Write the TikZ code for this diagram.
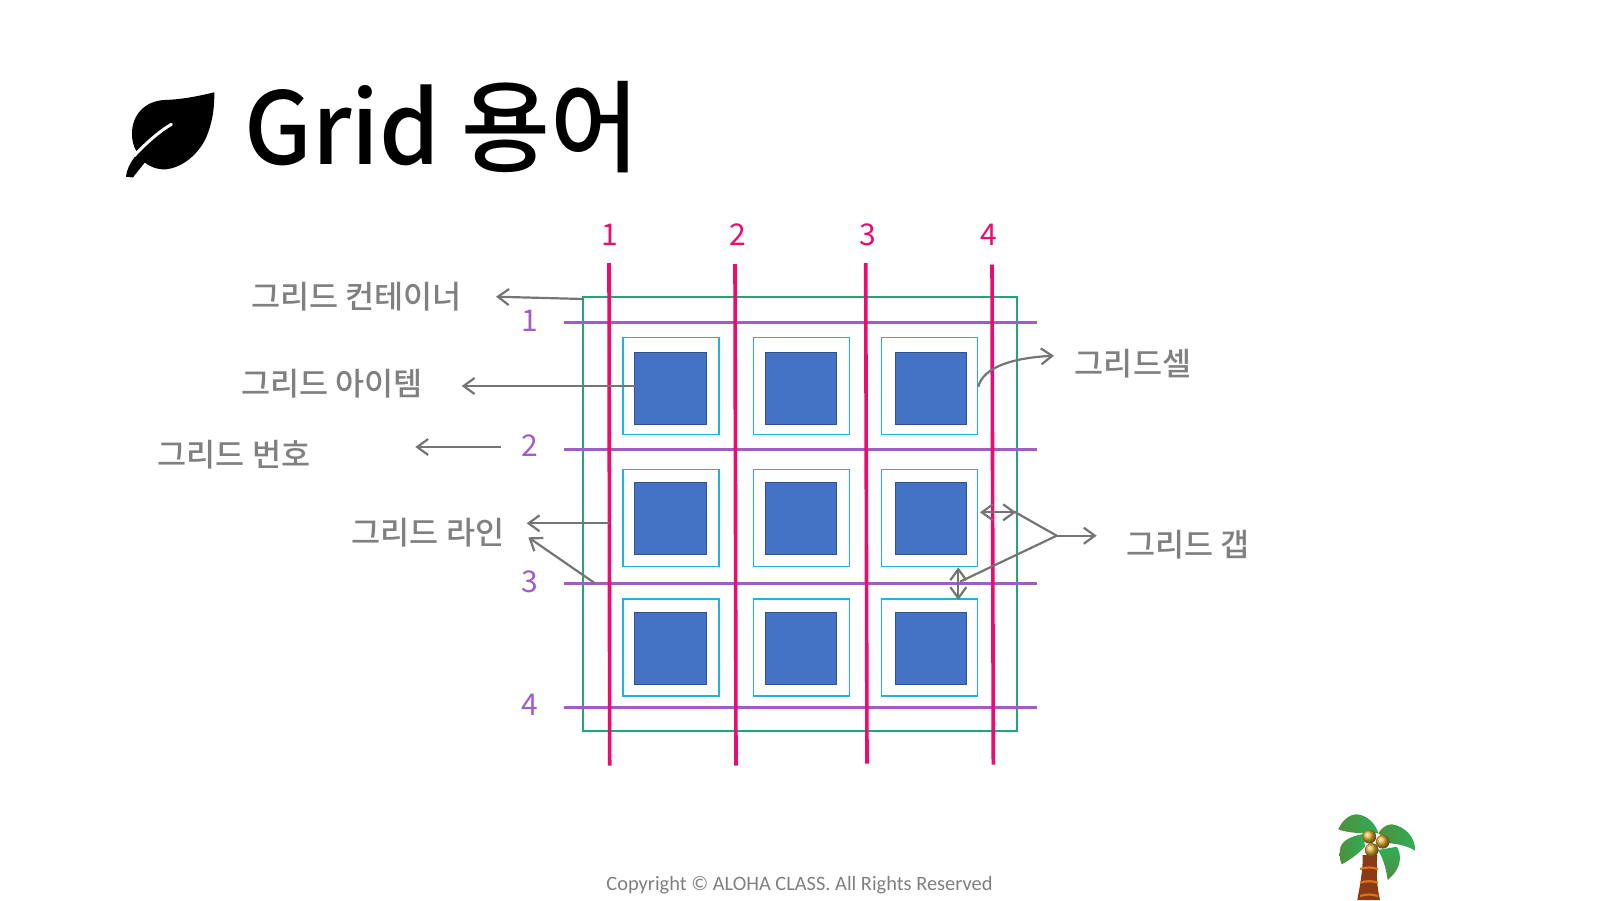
\documentclass[tikz,border=0pt]{standalone}
\usepackage{fontspec}
\setmainfont{Noto Sans CJK KR}
\newfontfamily\medfont{Noto Sans CJK KR Medium}
\newfontfamily\copyfont{Carlito}
\usetikzlibrary{arrows.meta,calc}
\definecolor{cgray}{HTML}{757575}
\definecolor{ctext}{HTML}{808080}
\definecolor{cpink}{HTML}{EC0B6E}
\definecolor{cpurple}{HTML}{A05CC8}
\definecolor{cgreen}{HTML}{1FA874}
\definecolor{ccyan}{HTML}{1FB4DC}
\definecolor{cblue}{HTML}{4472C4}
\definecolor{cblueedge}{HTML}{2F528F}
\definecolor{ctrunk}{HTML}{8A3A14}
\definecolor{cstripe}{HTML}{D9741C}
\definecolor{cleafa}{HTML}{2FAE58}
\definecolor{cleafb}{HTML}{4F8F3C}
\definecolor{cnut}{HTML}{DDA92C}
\tikzset{
  x=0.5pt,y=-0.5pt,
  cellbox/.style={draw=ccyan,line width=0.75pt,fill=white,minimum width=48pt,minimum height=48.5pt,inner sep=0pt},
  itembox/.style={draw=cblueedge,line width=0.5pt,fill=cblue,minimum width=35.7pt,minimum height=35.8pt,inner sep=0pt},
  vline/.style={draw=cpink,line width=1.8pt},
  hline/.style={draw=cpurple,line width=1.5pt},
  note/.style={draw=cgray,line width=1.1pt,-{Straight Barb[length=5.5pt,width=8pt,line width=1.1pt]}},
  notetwo/.style={draw=cgray,line width=1.1pt,{Straight Barb[length=5.5pt,width=8pt,line width=1.1pt]}-{Straight Barb[length=5.5pt,width=8pt,line width=1.1pt]}},
  plain/.style={draw=cgray,line width=1.1pt},
  lab/.style={text=ctext,inner sep=0pt,font=\medfont\fontsize{15.8}{18}\selectfont},
  pnum/.style={text=cpink,inner sep=0pt,font=\fontsize{15}{17}\selectfont},
  hnum/.style={text=cpurple,inner sep=0pt,font=\fontsize{15}{17}\selectfont},
}
\begin{document}
\begin{tikzpicture}
\useasboundingbox (0,0) rectangle (1600,900);
% title
\node[anchor=base west,inner sep=0pt,font=\medfont\fontsize{50}{56}\selectfont] (title) at (244,164.3) {\scalebox{0.965}[1]{Grid 용어}};
% leaf
\fill[black] (214.3,92.3) .. controls (195,97) and (180,99.5) .. (164.3,100)
  .. controls (145,101) and (132,115) .. (132,133.3)
  .. controls (132,140) and (133,146) .. (136.8,151.7)
  -- (134,158) .. controls (129,165) and (126.5,171) .. (126,176.7)
  -- (133,177.3) .. controls (135,172) and (139,167) .. (144.6,162.3)
  .. controls (151,167.5) and (158,169.8) .. (166,169.3)
  .. controls (180,168) and (196,157) .. (205,140)
  .. controls (212,125) and (214.5,110) .. (214.3,92.3) -- cycle;
\draw[white,line width=1.5pt,line cap=round] (171.4,124.3) .. controls (160,131) and (147,142) .. (134,156);
\fill[black] (140,157) -- (126,176.7) -- (133,177.3) -- (146,161) -- cycle;
% container
\node[draw=cgreen,line width=0.9pt,minimum width=216.7pt,minimum height=216.7pt,inner sep=0pt] (box) at (800,514) {};
% cells
\foreach \cx/\ix/\cn in {670.9/670.4/1,801.5/801.2/2,929.7/931/3}{
  \foreach \cy/\iy/\rn in {385.8/388.2/1,518/518.2/2,647.3/648.2/3}{
    \node[cellbox] (cell\rn\cn) at (\cx,\cy) {};
    \node[itembox] (item\rn\cn) at (\ix,\iy) {};
  }
}
% horizontal lines
\foreach \y/\n in {322/1,449/2,583/3,707/4}{
  \coordinate (hl\n) at (564,\y);
  \coordinate (hr\n) at (1036.5,\y);
  \draw[hline] (hl\n) -- (hr\n);
}
% vertical lines
\foreach \xa/\xb/\ya/\yb/\n in {609/609.7/263/765.7/1,735/736/264/765.7/2,865.7/867/263/763.5/3,992/993.3/264.5/764.5/4}{
  \coordinate (vt\n) at (\xa,\ya);
  \coordinate (vb\n) at (\xb,\yb);
  \draw[vline] (vt\n) -- (vb\n);
}
% numbers
\node[pnum] (p1) at (610,235) {1};
\node[pnum] (p2) at (737.7,235) {2};
\node[pnum] (p3) at (867.5,235) {3};
\node[pnum] (p4) at (989,235) {4};
\node[hnum] (h1) at (529.6,321) {1};
\node[hnum] (h2) at (529.6,446) {2};
\node[hnum] (h3) at (529.6,581.6) {3};
\node[hnum] (h4) at (529.6,705) {4};
% labels
\node[lab] (lcont) at (356.7,297) {그리드 컨테이너};
\node[lab] (litem) at (332,383.5) {그리드 아이템};
\node[lab] (lnum) at (234,455) {그리드 번호};
\node[lab] (lline) at (428,532.5) {그리드 라인};
\node[lab] (lcell) at (1133,364) {그리드셀};
\node[lab] (lgap) at (1188,544.5) {그리드 갭};
% connector ends
\coordinate (a1s) at (583.3,299);
\coordinate (a1e) at (496,296.7);
\coordinate (a2s) at (634.5,386);
\coordinate (a2e) at (461.7,386);
\coordinate (a3s) at (501,447);
\coordinate (a3e) at (415.3,447);
\coordinate (a4s) at (609,523.3);
\coordinate (a4e) at (526.7,523.3);
\coordinate (a5s) at (595,583.3);
\coordinate (a5e) at (528.3,537.3);
\coordinate (cs) at (978.3,386.7);
\coordinate (ce) at (1054,355.7);
\coordinate (gh1) at (980,512.3);
\coordinate (gh2) at (1016,512.3);
\coordinate (gv1) at (958.3,567.3);
\coordinate (gv2) at (958.3,600);
\coordinate (gj) at (1056.7,535.7);
\coordinate (gs1) at (1014,511.5);
\coordinate (gs2) at (960,581.7);
\coordinate (ge) at (1096.7,535.7);
\draw[note] (a1s) -- (a1e);
\draw[note] (a2s) -- (a2e);
\draw[note] (a3s) -- (a3e);
\draw[note] (a4s) -- (a4e);
\draw[note] (a5s) -- (a5e);
\draw[note] (cs) .. controls (983,368) and (1010,358) .. (ce);
\draw[notetwo] (gh1) -- (gh2);
\draw[notetwo] (gv1) -- (gv2);
\draw[plain] (gs1) -- (gj) -- (gs2);
\draw[note] (gj) -- (ge);
% footer
\node[text=ctext,inner sep=0pt,font=\copyfont\fontsize{10.2}{12}\selectfont] (copy) at (799.5,885) {Copyright © ALOHA CLASS. All Rights Reserved};
% palm
\fill[ctrunk] (1362.7,855) -- (1377.3,855) .. controls (1376,872) and (1377,888) .. (1380,900) -- (1357.3,900) .. controls (1360,885) and (1363,870) .. (1362.7,855) -- cycle;
\foreach \y in {868,881.7,895}{
  \draw[cstripe,line width=1.1pt] (1360,\y+1) .. controls (1366,\y-1) and (1372,\y-1) .. (1378,\y+1);
}
\shade[left color=cleafb,right color=cleafa] (1363.3,834) .. controls (1350,836) and (1340,842) .. (1340,850) .. controls (1339,856) and (1340,860) .. (1341.7,864.3) .. controls (1350,860) and (1358,854) .. (1365,846.7) -- cycle;
\shade[top color=cleafa,bottom color=cleafb] (1378,850) -- (1396.7,846.7) .. controls (1402,855) and (1402,868) .. (1387.7,880) .. controls (1386,868) and (1383,858) .. (1378,850) -- cycle;
\shade[left color=cleafb,right color=cleafa] (1338.3,829.3) .. controls (1342,820) and (1350,814.3) .. (1356.7,814.3) .. controls (1367,815) and (1376,824) .. (1378.3,833.3) -- (1363.3,833.3) .. controls (1355,833) and (1345,832) .. (1338.3,829.3) -- cycle;
\shade[left color=cleafb,right color=cleafa] (1378.3,833) .. controls (1382,828) and (1386,824.3) .. (1391.7,824.3) .. controls (1405,826) and (1416,838) .. (1415,850.7) .. controls (1408,846) and (1398,844) .. (1390,843.3) -- cycle;
\shade[ball color=cnut] (1369.3,836.7) circle[radius=6.9];
\shade[ball color=cnut] (1382.7,841.7) circle[radius=6.9];
\shade[ball color=cnut] (1371.7,850) circle[radius=6.9];
\end{tikzpicture}
\end{document}
